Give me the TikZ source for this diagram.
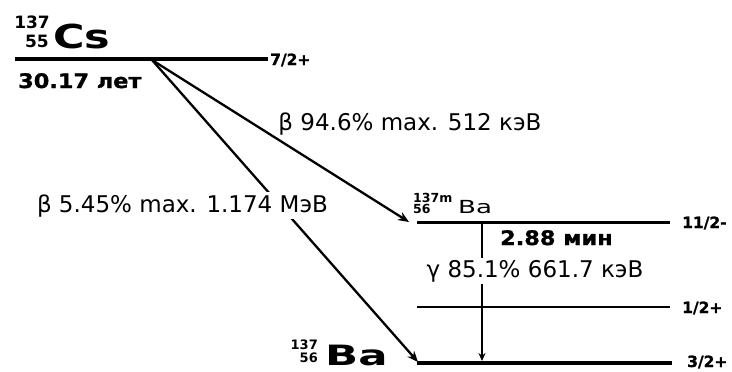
\documentclass[tikz,border=0pt]{standalone}
\usepackage{fontspec}
\usetikzlibrary{arrows.meta}
\setmainfont{DejaVu Sans}
\newfontfamily\wideb{DejaVu Sans}[FakeStretch=1.12,FakeBold=1.2]
\newfontfamily\spinfont{DejaVu Sans}[FakeBold=1.2]
\newfontfamily\csfont{DejaVu Sans}[FakeStretch=1.3]
\newfontfamily\bafont{DejaVu Sans}[FakeStretch=1.55]
\newfontfamily\bamfont{DejaVu Sans}[FakeStretch=1.45]
\tikzset{
  lvl/.style={line width=#1},
  decay/.style={line width=2.3pt,-{Stealth[length=11pt,width=9pt]}},
  gam/.style={line width=2.8pt,-{Stealth[length=8pt,width=7pt]}},
  lbl/.style={font=\fontsize{23}{27}\selectfont,fill=white,inner sep=2pt,anchor=base},
  spin/.style={font=\spinfont\bfseries\fontsize{15.5}{17}\selectfont,anchor=base west,inner sep=0pt},
  half/.style={font=\wideb\bfseries\fontsize{20}{23}\selectfont,anchor=base west,inner sep=0pt},
  iso/.style={font=\bfseries\fontsize{#1}{#1}\selectfont,inner sep=0pt},
}
\begin{document}
\begin{tikzpicture}[x=1pt,y=-1pt]
\useasboundingbox (0,0) rectangle (732,372);
% level ends
\coordinate (csL) at (15,59);
\coordinate (csR) at (268,59);
\coordinate (mL) at (417,222);
\coordinate (mR) at (670,222);
\coordinate (hL) at (417,307);
\coordinate (hR) at (670,307);
\coordinate (gL) at (417,363);
\coordinate (gR) at (672,363);
\coordinate (src) at (152,60);
\coordinate (mtip) at (409,222);
\coordinate (gtip) at (418,362);
\coordinate (gtop) at (482,222);
\coordinate (gbot) at (482,361);
% levels
\draw[lvl=3.5pt] (csL) -- (csR);
\draw[lvl=3pt] (mL) -- (mR);
\draw[lvl=2.2pt] (hL) -- (hR);
\draw[lvl=4.5pt] (gL) -- (gR);
% transitions
\draw[decay] (src) -- (mtip);
\draw[decay] (src) -- (gtip);
\draw[gam] (gtop) -- (gbot);
% transition labels
\node[lbl] (b1) at (410,130) {β 94.6\% max. 512 кэВ};
\node[lbl] (b2) at (182.5,212) {β 5.45\% max. 1.174 МэВ};
\node[lbl] (g1) at (535,277) {γ 85.1\% 661.7 кэВ};
% isotopes
\node[iso=17,anchor=base east] (cs137) at (50,28) {137};
\node[iso=17,anchor=base east] (cs55) at (49,47) {55};
\node[font=\csfont\bfseries\fontsize{33}{33}\selectfont,inner sep=0pt,anchor=base west] (cs) at (53,48) {Cs};
\node[iso=12.5,anchor=base west] (bm137) at (413,202) {137m};
\node[iso=12.5,anchor=base west] (bm56) at (413,213) {56};
\node[font=\bamfont\fontsize{18}{18}\selectfont,inner sep=0pt,anchor=base west] (bam) at (458,213) {Ba};
\node[iso=13,anchor=base east] (b137) at (318,349) {137};
\node[iso=13,anchor=base east] (b56) at (318,362) {56};
\node[font=\bafont\bfseries\fontsize{28}{28}\selectfont,inner sep=0pt,anchor=base west] (ba) at (325,365) {Ba};
% half-lives
\node[half] (t1) at (18,88) {30.17 лет};
\node[half] (t2) at (500,245) {2.88 мин};
% spins
\node[spin] (s1) at (270,65) {7/2+};
\node[spin] (s2) at (682,228) {11/2-};
\node[spin] (s3) at (682,313) {1/2+};
\node[spin] (s4) at (687,367) {3/2+};
\end{tikzpicture}
\end{document}
